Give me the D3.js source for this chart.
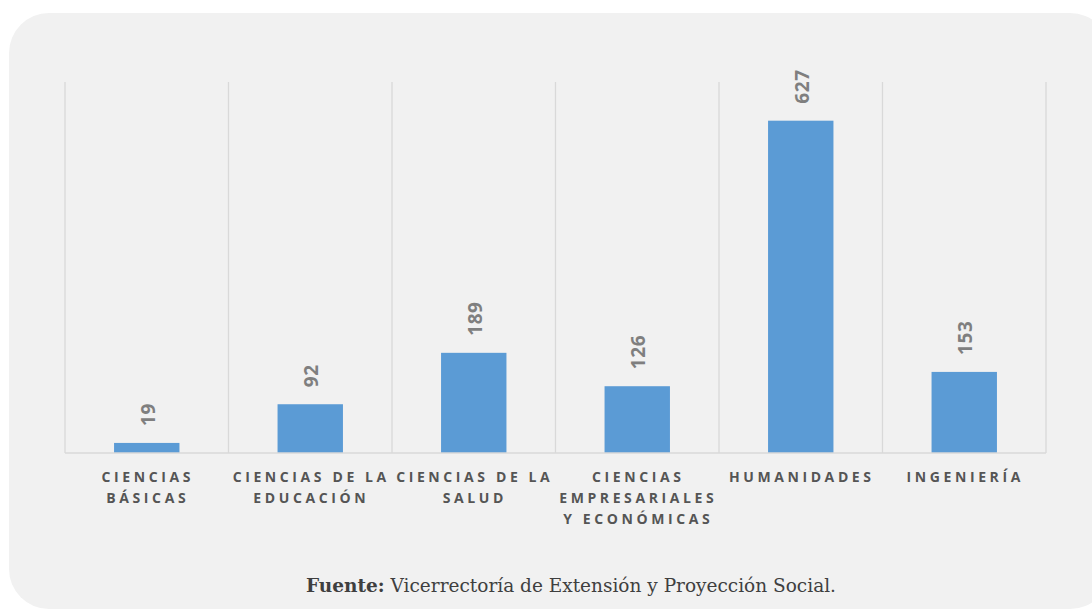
<!DOCTYPE html>
<html>
<head>
<meta charset="utf-8">
<script src="https://cdn.jsdelivr.net/npm/d3@7/dist/d3.min.js"></script>
<style>
  html, body { margin: 0; padding: 0; background: #ffffff; }
  svg { display: block; }
</style>
</head>
<body>
<script>
const categories = [
  ["CIENCIAS", "BÁSICAS"],
  ["CIENCIAS DE LA", "EDUCACIÓN"],
  ["CIENCIAS DE LA", "SALUD"],
  ["CIENCIAS", "EMPRESARIALES", "Y ECONÓMICAS"],
  ["HUMANIDADES"],
  ["INGENIERÍA"]
];
const values = [19, 92, 189, 126, 627, 153];
const yMax = 700;

(function () {
const W = 1092, H = 610;
const svg = d3.select("body").append("svg").attr("width", W).attr("height", H);

// background panel
svg.append("rect")
  .attr("x", 9).attr("y", 13).attr("width", 1101).attr("height", 596)
  .attr("rx", 40).attr("ry", 40)
  .attr("fill", "#f1f1f1");

const pLeft = 65, pRight = 1046, pTop = 82, pBottom = 453;
const keys = categories.map((d, i) => i);
const x = d3.scaleBand().domain(keys).range([pLeft, pRight]).paddingInner(0).paddingOuter(0);
const y = d3.scaleLinear().domain([0, yMax]).range([pBottom, pTop]);

// vertical gridlines at band edges
const edges = keys.map(k => x(k)).concat([pRight]);
svg.append("g").selectAll("line").data(edges).join("line")
  .attr("x1", d => d).attr("x2", d => d)
  .attr("y1", pTop).attr("y2", pBottom)
  .attr("stroke", "#d9d9d9").attr("stroke-width", 1.3);

// bars
const bw = x.bandwidth() * 0.4;
svg.append("g").selectAll("rect").data(values).join("rect")
  .attr("x", (d, i) => x(i) + x.bandwidth() / 2 - bw / 2)
  .attr("width", bw)
  .attr("y", d => y(d))
  .attr("height", d => pBottom - y(d))
  .attr("fill", "#5b9bd5");

// baseline
svg.append("line")
  .attr("x1", pLeft).attr("x2", pRight)
  .attr("y1", pBottom).attr("y2", pBottom)
  .attr("stroke", "#d9d9d9").attr("stroke-width", 1.5);

// value labels (rotated)
svg.append("g").selectAll("text").data(values).join("text")
  .attr("transform", (d, i) => `translate(${x(i) + x.bandwidth() / 2 + 8},${y(d) - 17}) rotate(-90)`)
  .attr("text-anchor", "start")
  .attr("font-family", "'Open Sans', 'DejaVu Sans', sans-serif")
  .attr("font-weight", "bold")
  .attr("font-size", 19)
  .attr("letter-spacing", "0.6px")
  .attr("fill", "#7f7f7f")
  .text(d => d);

// category labels
const cat = svg.append("g").selectAll("text").data(categories).join("text")
  .attr("text-anchor", "middle")
  .attr("font-family", "'Open Sans', 'DejaVu Sans', sans-serif")
  .attr("font-weight", "bold")
  .attr("font-size", 14)
  .attr("letter-spacing", "3.6px")
  .attr("fill", "#555555");
cat.each(function(lines, i) {
  d3.select(this).selectAll("tspan").data(lines).join("tspan")
    .attr("x", x(i) + x.bandwidth() / 2 + 1)
    .attr("y", (l, j) => 482 + j * 21)
    .text(l => l);
});

// footer
const foot = svg.append("text")
  .attr("x", 571).attr("y", 592)
  .attr("text-anchor", "middle")
  .attr("font-family", "'DejaVu Serif', 'Liberation Serif', serif")
  .attr("font-size", 18.5)
  .attr("fill", "#3f3f3f");
foot.append("tspan").attr("font-weight", "bold").text("Fuente:");
foot.append("tspan").text(" Vicerrectoría de Extensión y Proyección Social.");
})();
</script>
</body>
</html>
